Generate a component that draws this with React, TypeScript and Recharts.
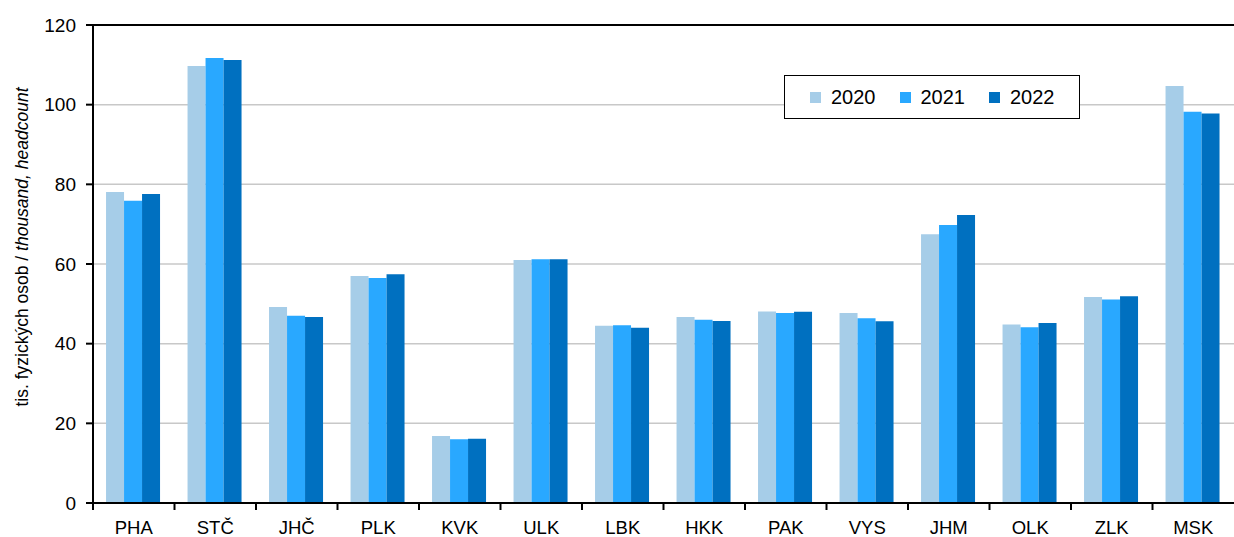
import React from 'react';
import {
  BarChart,
  Bar,
  XAxis,
  YAxis,
  CartesianGrid,
  ReferenceLine,
} from 'recharts';

const regions = ['PHA', 'STČ', 'JHČ', 'PLK', 'KVK', 'ULK', 'LBK', 'HKK', 'PAK', 'VYS', 'JHM', 'OLK', 'ZLK', 'MSK'];
const y2020 = [78.1, 109.7, 49.2, 57.0, 16.8, 61.0, 44.5, 46.7, 48.1, 47.7, 67.5, 44.8, 51.7, 104.7];
const y2021 = [75.9, 111.7, 47.0, 56.5, 16.0, 61.2, 44.6, 46.0, 47.7, 46.4, 69.8, 44.1, 51.1, 98.2];
const y2022 = [77.6, 111.2, 46.7, 57.4, 16.1, 61.2, 44.0, 45.7, 48.0, 45.6, 72.3, 45.2, 51.9, 97.8];
const yTicks = [0, 20, 40, 60, 80, 100, 120];

const seriesNames = ['2020', '2021', '2022'];
const colors = ['#a6cde8', '#29a8ff', '#0070c0'];

const data = regions.map((r, i) => ({
  region: r,
  '2020': y2020[i],
  '2021': y2021[i],
  '2022': y2022[i],
}));

const FONT = '"Liberation Sans", Arial, Helvetica, sans-serif';
const BAND = (1234 - 93) / regions.length;

const XTick = (props: any) => {
  const { x, y, payload } = props;
  return (
    <g>
      <line x1={x - BAND / 2} x2={x - BAND / 2} y1={y - 8} y2={y - 1} stroke="#000" strokeWidth={2} />
      <text x={x} y={y + 23} textAnchor="middle" fontSize={18.5} fill="#000" fontFamily={FONT}>
        {payload.value}
      </text>
    </g>
  );
};

const YLabel = () => (
  <text
    x={0}
    y={0}
    transform="translate(28, 247) rotate(-90)"
    textAnchor="middle"
    fontSize={17.5}
    fill="#000"
    fontFamily={FONT}
  >
    <tspan>tis. fyzických osob / </tspan>
    <tspan fontStyle="italic">thousand, headcount</tspan>
  </text>
);

const LegendBox = () => (
  <div
    style={{
      position: 'absolute',
      left: 784,
      top: 75,
      width: 296,
      height: 44,
      border: '1px solid #000',
      background: '#fff',
      display: 'flex',
      alignItems: 'center',
      boxSizing: 'border-box',
      paddingLeft: 25,
      fontFamily: FONT,
      fontSize: 20,
      color: '#000',
    }}
  >
    {seriesNames.map((n, i) => (
      <div key={n} style={{ display: 'flex', alignItems: 'center', marginRight: 24 }}>
        <span style={{ width: 11, height: 11, background: colors[i], display: 'inline-block', marginRight: 10 }} />
        <span>{n}</span>
      </div>
    ))}
  </div>
);

export default function App() {
  return (
    <div style={{ position: 'absolute', left: 0, top: 0, width: 1234, height: 537, background: '#fff' }}>
      <BarChart
        width={1234}
        height={537}
        data={data}
        margin={{ top: 25, right: 0, bottom: 0, left: 0 }}
        barCategoryGap="16%"
        barGap={0}
      >
        <CartesianGrid vertical={false} stroke="#c8c8c8" strokeWidth={1.5} />
        <XAxis
          dataKey="region"
          interval={0}
          tick={<XTick />}
          tickLine={false}
          axisLine={false}
          height={34}
        />
        <YAxis
          type="number"
          domain={[0, 120]}
          ticks={yTicks}
          width={93}
          tickSize={7}
          tickMargin={10}
          tickLine={{ stroke: '#000', strokeWidth: 2 }}
          axisLine={{ stroke: '#000', strokeWidth: 2 }}
          tick={{ fontSize: 19, fill: '#000', fontFamily: FONT }}
          label={<YLabel />}
        />
        <ReferenceLine y={120} stroke="#000" strokeWidth={2} />
        <ReferenceLine y={0} stroke="#000" strokeWidth={2} />
        {seriesNames.map((n, i) => (
          <Bar key={n} dataKey={n} fill={colors[i]} isAnimationActive={false} />
        ))}
      </BarChart>
      <LegendBox />
    </div>
  );
}
